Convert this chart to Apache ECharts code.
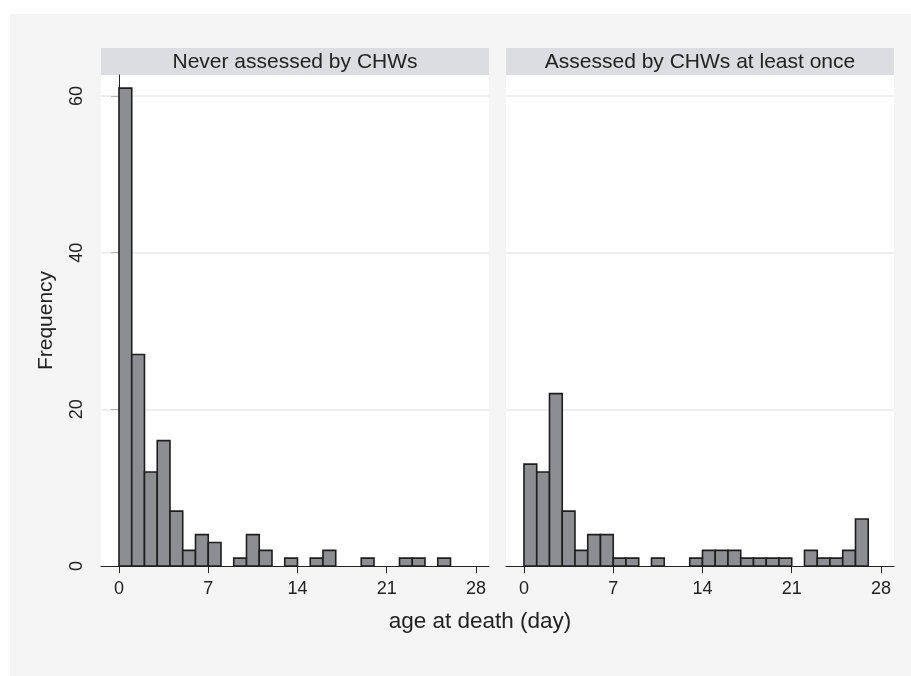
<!DOCTYPE html>
<html>
<head>
<meta charset="utf-8">
<script src="https://cdn.jsdelivr.net/npm/echarts@6/dist/echarts.min.js"></script>
<style>html,body{margin:0;padding:0;background:#fff;}#c{width:911px;height:676px;}</style>
</head>
<body>
<div id="c"></div>
<script>
// Bin starts (days), bin width = 1 day
var binStarts = [0,1,2,3,4,5,6,7,8,9,10,11,12,13,14,15,16,17,18,19,20,21,22,23,24,25,26,27];
var neverCounts    = [61,27,12,16,7,2,4,3,0,1,4,2,0,1,0,1,2,0,0,1,0,0,1,1,0,1,0,0];
var assessedCounts = [13,12,22,7,2,4,4,1,1,0,1,0,0,1,2,2,2,1,1,1,1,0,2,1,1,2,6,0];
var panelTitles = ['Never assessed by CHWs', 'Assessed by CHWs at least once'];
var xTicks = [0, 7, 14, 21, 28];
var yTicks = [0, 20, 40, 60];
var gridValues = [20, 40, 60];
var xTitle = 'age at death (day)';
var yTitle = 'Frequency';

function toBins(counts) {
  var out = [];
  for (var i = 0; i < binStarts.length; i++) {
    if (counts[i] > 0) out.push([binStarts[i], binStarts[i] + 1, counts[i]]);
  }
  return out;
}

var FONT = '"Liberation Sans", Arial, sans-serif';
var TXT = '#222222';

function renderBar(params, api) {
  var x0 = api.value(0), x1 = api.value(1), y = api.value(2);
  var p0 = api.coord([x0, y]);
  var p1 = api.coord([x1, 0]);
  return {
    type: 'rect',
    shape: { x: p0[0], y: p0[1], width: p1[0] - p0[0], height: p1[1] - p0[1] },
    style: { fill: '#8d8e92', stroke: '#1e1e1e', lineWidth: 1.6 }
  };
}

function xAxisDef(idx) {
  return {
    type: 'value', gridIndex: idx, min: -1.41, max: 29.02,
    splitLine: { show: false },
    axisLine: { show: true, onZero: false, lineStyle: { color: TXT, width: 1 } },
    axisTick: { show: true, customValues: xTicks, length: 7, lineStyle: { color: TXT, width: 1 } },
    axisLabel: { customValues: xTicks, margin: 14, fontSize: 18, color: TXT, fontFamily: FONT }
  };
}
function yAxisDef(idx, visible) {
  return {
    type: 'value', gridIndex: idx, min: 0, max: 62.68,
    show: visible,
    name: visible ? yTitle : '', nameLocation: 'middle', nameGap: 44, nameRotate: 90,
    nameTextStyle: { fontSize: 21, color: TXT, fontFamily: FONT },
    splitLine: { show: false },
    axisLine: { show: visible, lineStyle: { color: TXT, width: 1 } },
    axisTick: { show: visible, customValues: yTicks, length: 8, lineStyle: { color: TXT, width: 1 } },
    axisLabel: { show: visible, customValues: yTicks, rotate: 90, margin: 15, fontSize: 18, color: TXT, fontFamily: FONT }
  };
}
function gridLineSeries(idx) {
  return {
    type: 'line', xAxisIndex: idx, yAxisIndex: idx, data: [], z: 1, silent: true,
    markLine: {
      z: 1, silent: true, symbol: ['none', 'none'], label: { show: false },
      lineStyle: { color: '#eaeaea', width: 1.5, type: 'solid' },
      data: gridValues.map(function (v) { return { yAxis: v }; }),
      animation: false
    }
  };
}

var chart = echarts.init(document.getElementById('c'), null, { renderer: 'canvas' });
var grids = [
  { left: 101, top: 75, width: 388, height: 491 },
  { left: 506, top: 75, width: 388, height: 491 }
];
chart.setOption({
  animation: false,
  backgroundColor: '#f5f5f5',
  grid: grids.map(function (g) {
    return { left: g.left, top: g.top, width: g.width, height: g.height, show: true, backgroundColor: '#ffffff', borderWidth: 0 };
  }),
  xAxis: [xAxisDef(0), xAxisDef(1)],
  yAxis: [yAxisDef(0, true), yAxisDef(1, false)],
  series: [
    gridLineSeries(0),
    gridLineSeries(1),
    { type: 'custom', xAxisIndex: 0, yAxisIndex: 0, z: 10, renderItem: renderBar, encode: { x: [0, 1], y: 2 }, data: toBins(neverCounts) },
    { type: 'custom', xAxisIndex: 1, yAxisIndex: 1, z: 10, renderItem: renderBar, encode: { x: [0, 1], y: 2 }, data: toBins(assessedCounts) }
  ],
  graphic: [
    { type: 'rect', shape: { x: 0, y: 0, width: 911, height: 14 }, style: { fill: '#ffffff' }, silent: true },
    { type: 'rect', shape: { x: 0, y: 0, width: 10, height: 676 }, style: { fill: '#ffffff' }, silent: true },
    { type: 'rect', shape: { x: grids[0].left, y: 48, width: grids[0].width, height: 27 }, style: { fill: '#dcdde0' }, silent: true },
    { type: 'rect', shape: { x: grids[1].left, y: 48, width: grids[1].width, height: 27 }, style: { fill: '#dcdde0' }, silent: true },
    { type: 'text', x: grids[0].left + grids[0].width / 2, y: 62, style: { text: panelTitles[0], fill: TXT, font: '21px ' + FONT, textAlign: 'center', textVerticalAlign: 'middle' }, silent: true },
    { type: 'text', x: grids[1].left + grids[1].width / 2, y: 62, style: { text: panelTitles[1], fill: TXT, font: '21px ' + FONT, textAlign: 'center', textVerticalAlign: 'middle' }, silent: true },
    { type: 'text', x: 480, y: 622, style: { text: xTitle, fill: TXT, font: '22.5px ' + FONT, textAlign: 'center', textVerticalAlign: 'middle' }, silent: true }
  ]
});
</script>
</body>
</html>
